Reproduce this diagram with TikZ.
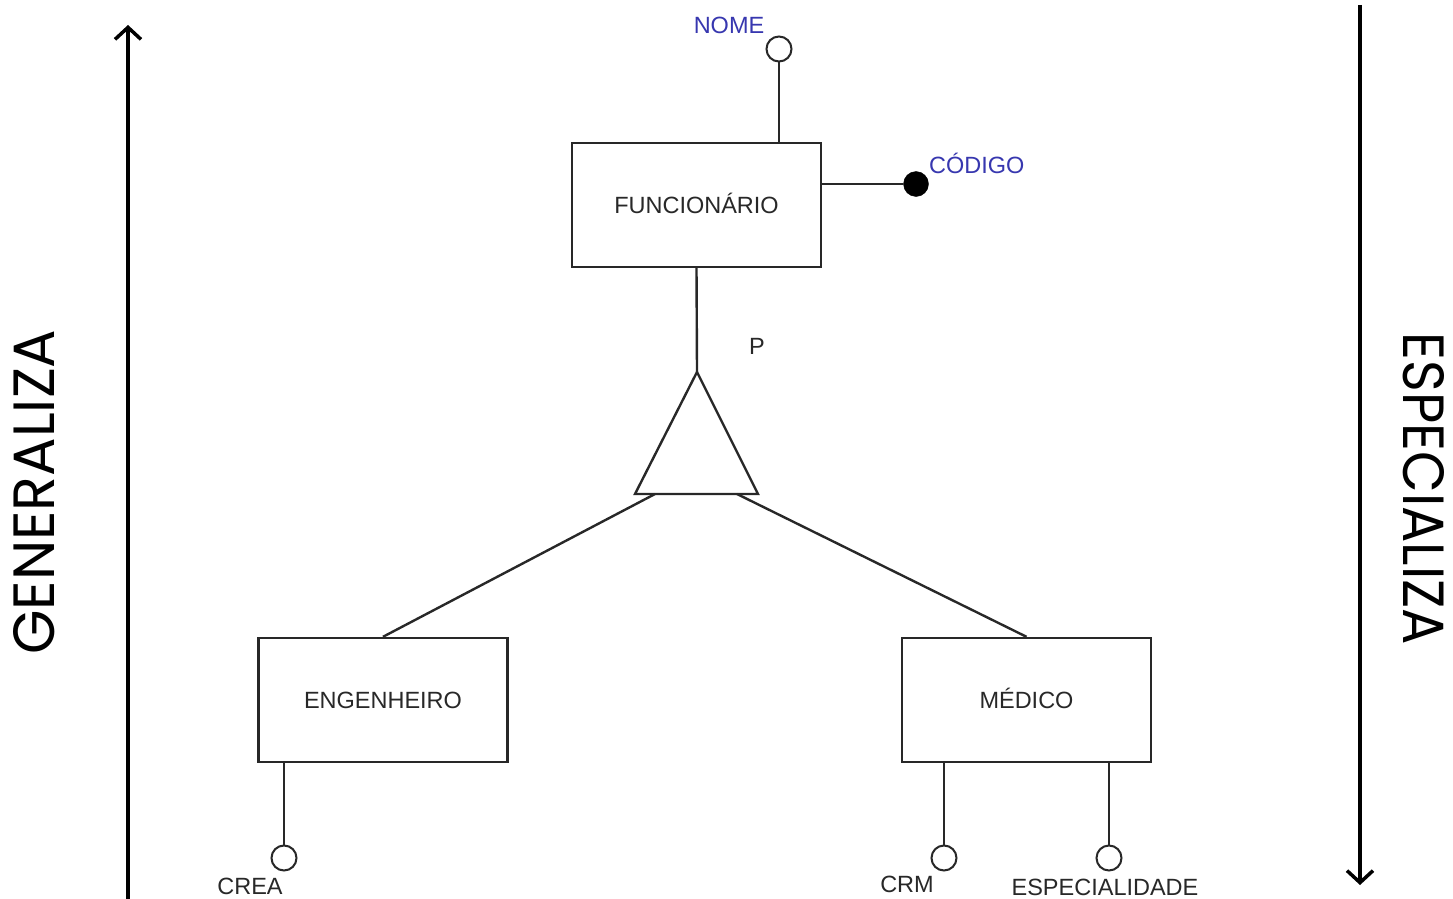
\documentclass[tikz,border=0pt]{standalone}
\usepackage{fontspec}
\setmainfont{Liberation Sans}
\newfontfamily\geo{Poppins}
\usetikzlibrary{arrows.meta}
\definecolor{ink}{RGB}{40,40,40}
\definecolor{attrblue}{RGB}{55,55,175}
\begin{document}
\begin{tikzpicture}[x=1pt,y=-1pt,
  ent/.style={draw=ink,line width=2.4pt,minimum width=249pt,minimum height=124pt,inner sep=0pt,font=\fontsize{23.5}{26}\selectfont,text=ink,text height=17pt,text depth=0pt},
  attr/.style={draw=ink,line width=2pt,circle,minimum size=25pt,inner sep=0pt,fill=white},
  key/.style={draw=black,circle,minimum size=25pt,inner sep=0pt,fill=black},
  lbl/.style={font=\fontsize{23.5}{26}\selectfont,text=ink,inner sep=0pt},
  blbl/.style={font=\fontsize{23.5}{26}\selectfont,text=attrblue,inner sep=0pt},
  conn/.style={draw=ink,line width=2.4pt},
  bigarrow/.style={draw=black,line width=3.5pt,-{Straight Barb[length=12pt,width=26pt,line width=3.5pt]}}
]
\useasboundingbox (0,0) rectangle (1453,899);
% entities
\node[ent] (func) at (696.5,205) {FUNCION\'ARIO};
\node[ent] (eng) at (383,700) {ENGENHEIRO};
\node[ent] (med) at (1026.5,700) {M\'EDICO};
% triangle
\coordinate (apex) at (697,372);
\coordinate (bl) at (635,494);
\coordinate (br) at (758,494);
\draw[conn,line join=miter] (apex) -- (bl) -- (br) -- cycle;
\node[lbl] (p) at (757,346) {P};
\coordinate (tl) at (655,494);
\coordinate (tr) at (737,494);
\draw[conn] (func.south) -- (apex);
\draw[conn] (tl) -- (eng.north);
\draw[conn] (tr) -- (med.north);
% attributes of FUNCIONARIO
\node[attr] (nome) at (779,49) {};
\draw[conn] (nome.south) -- (nome.south |- func.north);
\node[blbl] (nomet) at (729,25) {NOME};
\node[key] (cod) at (916,184) {};
\draw[conn] (cod.west) -- (func.east |- cod.west);
\node[blbl,anchor=west] (codt) at (929,163) {C\'ODIGO};
% attributes of ENGENHEIRO
\node[attr] (crea) at (284,858) {};
\draw[conn] (crea.north) -- (crea.north |- eng.south);
\node[lbl] (creat) at (250,886) {CREA};
% attributes of MEDICO
\node[attr] (crm) at (944,858) {};
\draw[conn] (crm.north) -- (crm.north |- med.south);
\node[lbl] (crmt) at (907,884) {CRM};
\node[attr] (esp) at (1109,858) {};
\draw[conn] (esp.north) -- (esp.north |- med.south);
\node[lbl] (espt) at (1105,887) {ESPECIALIDADE};
% side arrows
\coordinate (ga) at (128,899);
\coordinate (gb) at (128,25);
\draw[bigarrow] (ga) -- (gb);
\coordinate (ea) at (1360,5);
\coordinate (eb) at (1360,885);
\draw[bigarrow] (ea) -- (eb);
\node[rotate=90,inner sep=0pt] (gen) at (34,492) {\resizebox{325pt}{41pt}{\geo GENERALIZA}};
\node[rotate=-90,inner sep=0pt] (espz) at (1424,489) {\resizebox{312pt}{41pt}{\geo ESPECIALIZA}};
\end{tikzpicture}
\end{document}
